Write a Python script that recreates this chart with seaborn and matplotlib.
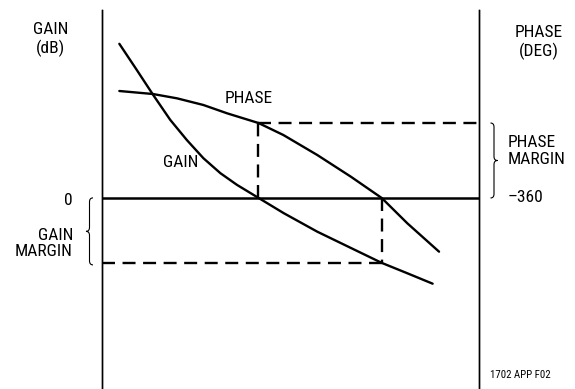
import numpy as np
import pandas as pd
import seaborn as sns
import matplotlib.pyplot as plt
from matplotlib.path import Path
from matplotlib.patches import PathPatch
from matplotlib.transforms import IdentityTransform

# Bode plot (frequency in arbitrary log units, 0..10 across the plot)
gain_freq = [0.46, 0.92, 1.35, 1.81, 2.25, 2.69, 3.14, 3.58, 4.15, 4.82, 5.71, 6.60, 7.42, 8.10, 8.77]
gain_db = [23.7, 19.7, 15.9, 12.0, 8.9, 6.1, 3.8, 2.0, 0.0, -2.35, -5.2, -7.7, -10.0, -11.6, -13.2]

phase_freq = [0.46, 1.35, 1.99, 2.69, 3.32, 4.15, 4.81, 5.71, 6.60, 7.42, 8.10, 8.94]
phase_deg = [-295.8, -297.6, -300.2, -304.2, -309.2, -315.0, -322.2, -334.2, -347.2, -360.0, -375.2, -392.2]

crossover_freq = 4.15      # gain = 0 dB
phase_cross_freq = 7.42    # phase = -360
phase_margin = 45
gain_margin = 10

W, H = 575, 389
sns.set_style("white")
plt.rcParams["font.family"] = ["Roboto Condensed", "Liberation Sans Narrow", "Roboto", "DejaVu Sans"]

fig = plt.figure(figsize=(W / 100, H / 100), dpi=100)
ax = fig.add_axes([102 / W, 0, 377 / W, 379 / H])
ax2 = ax.twinx()
ax2.set_position(ax.get_position())

gain_df = pd.DataFrame({"f": gain_freq, "g": gain_db})
phase_df = pd.DataFrame({"f": phase_freq, "p": phase_deg})

sns.lineplot(data=gain_df, x="f", y="g", ax=ax, color="black", lw=1.7, sort=False)
sns.lineplot(data=phase_df, x="f", y="p", ax=ax2, color="black", lw=1.7, sort=False)

ax.set_xlim(0, 10)
ax.set_ylim(-29.4, 28.9)
ax2.set_ylim(-474.6, -247.2)

ax.axhline(0, color="black", lw=1.8)

dash = dict(color="black", lw=1.7, dashes=(5.5, 3.2))
ax2.plot([crossover_freq, crossover_freq], [-360, -360 + phase_margin], **dash)
ax2.plot([crossover_freq, 10], [-360 + phase_margin] * 2, **dash)
ax.plot([phase_cross_freq, phase_cross_freq], [0, -gain_margin], **dash)
ax.plot([0, phase_cross_freq], [-gain_margin] * 2, **dash)

for a in (ax, ax2):
    a.set_xlabel("")
    a.set_ylabel("")
    a.set_xticks([])
    a.set_yticks([])
    for s in ("top", "bottom"):
        a.spines[s].set_visible(False)
    for s in ("left", "right"):
        a.spines[s].set_linewidth(1.0)
        a.spines[s].set_color("black")


def brace(xs, yt, yb, d):
    # xs, yt, yb in image pixels (y down); d=+1 tip right, -1 tip left
    ym = (yt + yb) / 2
    pts = [(xs - d * 3.5, yt), (xs, yt), (xs, yt + 4), (xs, ym - 4),
           (xs, ym), (xs + d * 3.5, ym), (xs, ym), (xs, ym + 4),
           (xs, yb - 4), (xs, yb), (xs - d * 3.5, yb)]
    codes = [Path.MOVETO, Path.CURVE3, Path.CURVE3, Path.LINETO,
             Path.CURVE3, Path.CURVE3, Path.CURVE3, Path.CURVE3,
             Path.LINETO, Path.CURVE3, Path.CURVE3]
    pts = [(x, H - y) for x, y in pts]
    fig.add_artist(PathPatch(Path(pts, codes), fill=False, lw=0.8,
                             edgecolor="black", transform=IdentityTransform()))


def img_y(a, v):
    return H - a.transData.transform((0, v))[1]


brace(494, img_y(ax2, -360 + phase_margin), img_y(ax2, -360), 1)
brace(89.5, img_y(ax, 0), img_y(ax, -gain_margin) + 2, -1)

fs = 12.5


def txt(x, y, s, ha="center", size=fs):
    fig.text(x / W, 1 - y / H, s, ha=ha, va="center", fontsize=size,
             linespacing=1.15, color="black")


txt(51, 39.5, "GAIN\n(dB)")
txt(539, 42.5, "PHASE\n(DEG)")
txt(73, 200.5, "0", ha="right")
txt(73, 243.5, "GAIN\nMARGIN", ha="right")
txt(508, 151, "PHASE\nMARGIN", ha="left")
txt(508, 197.5, "\u2013360", ha="left")
txt(249, 98.5, "PHASE")
txt(181, 162.5, "GAIN")
txt(520, 375, "1702 APP F02", size=7.8)

fig.savefig("out.png", dpi=100)
